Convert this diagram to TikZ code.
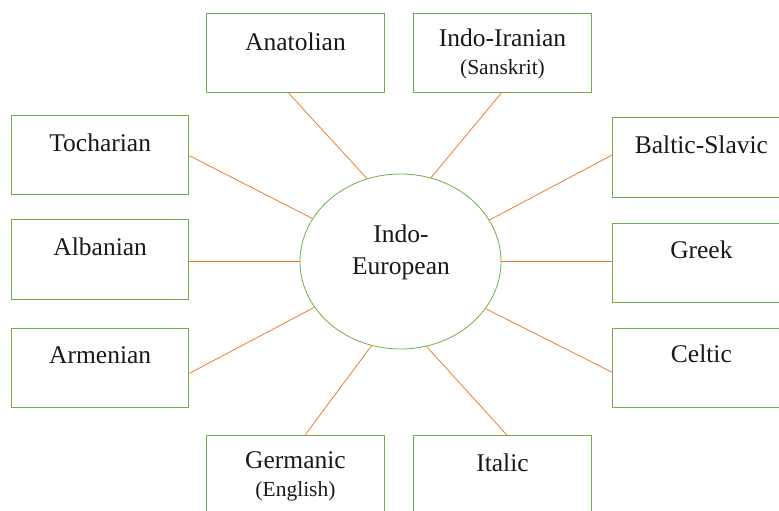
\documentclass[tikz,border=0pt]{standalone}
\usepackage{fontspec}
\setmainfont{Liberation Serif}
\usetikzlibrary{calc,shapes.geometric}
\definecolor{offgreen}{RGB}{112,173,71}
\definecolor{offorange}{RGB}{237,125,49}
\tikzset{
  langbox/.style={draw=offgreen, line width=1pt, minimum width=177.5pt, minimum height=79.5pt, inner sep=0pt},
  rootell/.style={draw=offgreen, line width=0.8pt, ellipse, minimum width=201pt, minimum height=175pt, inner sep=0pt},
  link/.style={draw=offorange, line width=0.8pt},
  bigtxt/.style={anchor=base, inner sep=0pt, font=\fontsize{25.5pt}{30pt}\selectfont, text=black!90},
  smalltxt/.style={anchor=base, inner sep=0pt, font=\fontsize{21.5pt}{26pt}\selectfont, text=black!90}
}
\begin{document}
\begin{tikzpicture}[x=1pt,y=-1pt]
\useasboundingbox (0,0) rectangle (779,511);
% boxes
\node[langbox] (ana) at (295.5,53.2) {};
\node[langbox] (iir) at (502.5,53.2) {};
\node[langbox] (toc) at (100.2,155) {};
\node[langbox] (alb) at (100.2,259.4) {};
\node[langbox] (arm) at (100.2,368) {};
\node[langbox] (bal) at (701.4,157.4) {};
\node[langbox] (gre) at (701.4,263) {};
\node[langbox] (cel) at (701.4,368) {};
\node[langbox] (ger) at (295.5,475.4) {};
\node[langbox] (ita) at (502.5,475.4) {};
\node[rootell] (ie) at (400.5,261.5) {};
% texts
\node[bigtxt] (anaT) at ($(ana.north)+(0,37.3)$) {Anatolian};
\node[bigtxt] (iirT) at ($(iir.north)+(0,34)$) {Indo-Iranian};
\node[smalltxt] (iirS) at ($(iir.north)+(0,62)$) {(Sanskrit)};
\node[bigtxt] (tocT) at ($(toc.north)+(0,36.4)$) {Tocharian};
\node[bigtxt] (albT) at ($(alb.north)+(0,36.3)$) {Albanian};
\node[bigtxt] (armT) at ($(arm.north)+(0,35.7)$) {Armenian};
\node[bigtxt] (balT) at ($(bal.north)+(0,36.6)$) {Baltic-Slavic};
\node[bigtxt] (greT) at ($(gre.north)+(0,35.7)$) {Greek};
\node[bigtxt] (celT) at ($(cel.north)+(0,34.4)$) {Celtic};
\node[bigtxt] (gerT) at ($(ger.north)+(0,33.3)$) {Germanic};
\node[smalltxt] (gerS) at ($(ger.north)+(0,61)$) {(English)};
\node[bigtxt] (itaT) at ($(ita.north)+(0,36.6)$) {Italic};
\node[bigtxt] (ieT1) at (401,242.3) {Indo-};
\node[bigtxt] (ieT2) at (401,274) {European};
% connectors
\draw[link] ($(ana.south)+(-6.5,0)$) -- (ie.112.4);
\draw[link] ($(iir.south)+(-1.5,0)$) -- (ie.70.5);
\draw[link] ($(toc.east)+(0,0.7)$) -- (ie.154.2);
\draw[link] (ie.west) -- (ie.west -| alb.east);
\draw[link] ($(arm.east)+(0,5.3)$) -- (ie.208.3);
\draw[link] ($(bal.west)+(0,-2.4)$) -- (ie.25);
\draw[link] (ie.east) -- (ie.east -| gre.west);
\draw[link] ($(cel.west)+(0,4.3)$) -- (ie.331);
\draw[link] ($(ger.north)+(9.5,0)$) -- (ie.251.8);
\draw[link] ($(ita.north)+(4.5,0)$) -- (ie.287.6);
\end{tikzpicture}
\end{document}
